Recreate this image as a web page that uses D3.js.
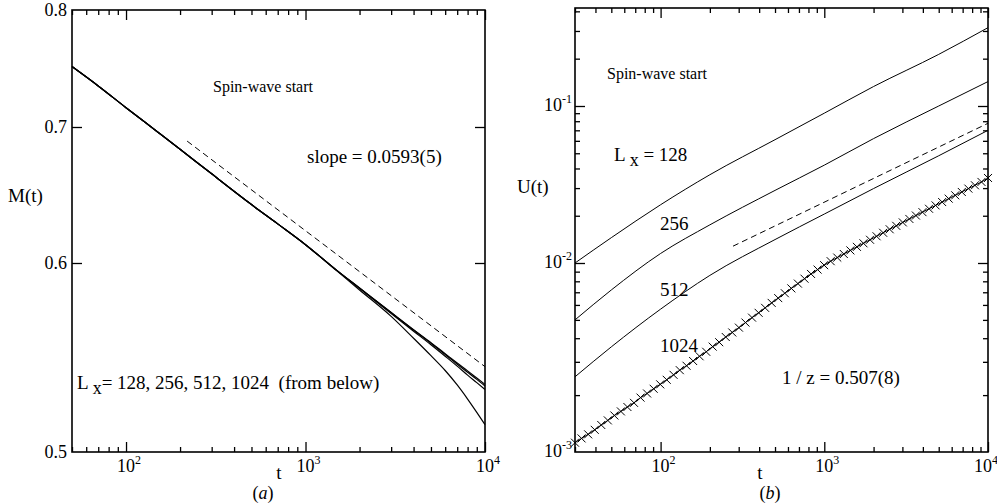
<!DOCTYPE html>
<html>
<head>
<meta charset="utf-8">
<script src="https://cdn.jsdelivr.net/npm/d3@7"></script>
<style>
  body { margin: 0; background: #fff; }
  svg text { font-family: "Liberation Serif", "Times New Roman", serif; fill: #000; white-space: pre; }
</style>
</head>
<body>
<svg id="chart" width="997" height="503"></svg>
<script>
// ---- panel (a): magnetisation M(t) ----
const tA = [50, 70, 100, 150, 200, 300, 500, 700, 1000, 1500, 2000, 3000, 4000, 5000, 6000, 7000, 8000, 9000, 10000];
const mL1024 = [0.750, 0.7336, 0.7156, 0.6961, 0.6826, 0.6638, 0.6411, 0.6272, 0.6126, 0.5956, 0.5857, 0.5720, 0.5626, 0.5556, 0.5497, 0.5448, 0.5407, 0.5370, 0.5337];
const mL512  = [0.750, 0.7336, 0.7156, 0.6961, 0.6826, 0.6638, 0.6411, 0.6272, 0.6126, 0.5956, 0.5857, 0.5720, 0.5624, 0.5553, 0.5493, 0.5442, 0.5400, 0.5363, 0.5329];
const mL256  = [0.750, 0.7336, 0.7156, 0.6961, 0.6826, 0.6638, 0.6411, 0.6272, 0.6126, 0.5956, 0.5855, 0.5714, 0.5618, 0.5545, 0.5484, 0.5432, 0.5385, 0.5346, 0.5311];
const mL128  = [0.750, 0.7336, 0.7156, 0.6961, 0.6826, 0.6638, 0.6411, 0.6272, 0.6126, 0.5953, 0.5846, 0.5699, 0.5580, 0.5487, 0.5409, 0.5334, 0.5262, 0.5195, 0.5134];
const slopeA = [[219, 0.6889], [10000, 0.5429]];
const yTicksA = [0.5, 0.6, 0.7, 0.8];

// ---- panel (b): U(t) ----
const tB = [30, 50, 100, 200, 500, 1000, 2000, 5000, 10000];
const u128 = [0.0100, 0.0145, 0.0235, 0.0365, 0.061, 0.090, 0.133, 0.213, 0.315];
const u256 = [0.0050, 0.0072, 0.0115, 0.0175, 0.029, 0.042, 0.062, 0.100, 0.143];
const u512 = [0.0025, 0.0036, 0.0057, 0.0086, 0.0141, 0.0205, 0.0298, 0.0482, 0.070];
const t1024 = [30, 32.9, 36.1, 39.6, 43.4, 47.6, 52.2, 57.2, 62.7, 68.8, 75.4, 82.7, 90.7, 99.5,
  109, 120, 131, 144, 158, 173, 190, 208, 228, 250, 274, 301, 330, 362, 397, 435, 477, 523, 574,
  629, 690, 757, 830, 910, 998, 1094, 1200, 1316, 1443, 1582, 1735, 1903, 2086, 2288, 2509, 2751,
  3017, 3309, 3628, 3979, 4363, 4785, 5247, 5754, 6310, 6920, 7588, 8322, 9125, 10000];
const u1024 = [0.00112, 0.00118, 0.00124, 0.00131, 0.00139, 0.00147, 0.00156, 0.00164, 0.00173, 0.00182,
  0.00194, 0.00204, 0.00216, 0.00228, 0.00241, 0.00256, 0.00271, 0.00286, 0.00303, 0.00321, 0.00339,
  0.00361, 0.00381, 0.00406, 0.00429, 0.00455, 0.00484, 0.00514, 0.00545, 0.00579, 0.00615, 0.00652,
  0.00692, 0.00734, 0.00778, 0.00826, 0.00875, 0.00923, 0.00974, 0.01027, 0.01083, 0.01141, 0.01203,
  0.01267, 0.01335, 0.01406, 0.01480, 0.01558, 0.01640, 0.01725, 0.01814, 0.01908, 0.02006, 0.02108,
  0.02215, 0.02327, 0.02445, 0.02569, 0.02698, 0.02834, 0.02977, 0.03126, 0.03283, 0.0348];
const slopeB = [[277, 0.0128], [10000, 0.0776]];
const yDecB = [0.001, 0.01, 0.1, 0.42];

const xTickPowers = [2, 3, 4];

const svg = d3.select("#chart");

// the printed axes are not evenly spaced per decade, so the log scales are piecewise
const xA = d3.scaleLog().domain([50, 10000]).range([72, 485]);
const yA = d3.scaleLog().domain(yTicksA).range([452, 263, 127, 10]);
const xB = d3.scaleLog().domain([30, 10000]).range([575, 988]);
const yB = d3.scaleLog().domain(yDecB).range([452, 263, 106, 8]);

function tickSet(g, axisFn, scale, vals, len, tr) {
  g.append("g")
    .attr("transform", tr)
    .call(axisFn(scale).tickValues(vals).tickSize(-len).tickSizeOuter(0).tickFormat(""))
    .call(a => a.select(".domain").remove())
    .selectAll("line").attr("stroke-width", 1.3);
}

function isPow10(v) {
  const l = Math.log10(v);
  return Math.abs(l - Math.round(l)) < 1e-9;
}

function drawFrame(x, y, yMajors, yMinors) {
  const g = svg.append("g");
  const [x0, x1] = x.range();
  const yr = y.range();
  const y1 = yr[0], y0 = yr[yr.length - 1];
  const xMajor = x.ticks().filter(isPow10);
  const xMinor = x.ticks().filter(v => !isPow10(v));
  tickSet(g, d3.axisBottom, x, xMajor, 10, `translate(0,${y1})`);
  tickSet(g, d3.axisBottom, x, xMinor, 5, `translate(0,${y1})`);
  tickSet(g, d3.axisTop, x, xMajor, 10, `translate(0,${y0})`);
  tickSet(g, d3.axisTop, x, xMinor, 5, `translate(0,${y0})`);
  tickSet(g, d3.axisLeft, y, yMajors, 10, `translate(${x0},0)`);
  tickSet(g, d3.axisLeft, y, yMinors, 5, `translate(${x0},0)`);
  tickSet(g, d3.axisRight, y, yMajors, 10, `translate(${x1},0)`);
  tickSet(g, d3.axisRight, y, yMinors, 5, `translate(${x1},0)`);
  g.append("rect")
    .attr("x", x0).attr("y", y0)
    .attr("width", x1 - x0).attr("height", y1 - y0)
    .attr("fill", "none").attr("stroke", "#000").attr("stroke-width", 1.6);

  // x tick labels 10^n
  const lab = g.selectAll("text.xl")
    .data(xTickPowers)
    .join("text")
    .attr("class", "xl")
    .attr("x", d => Math.min(x(Math.pow(10, d)) + 3, 986))
    .attr("y", y1 + 20)
    .attr("text-anchor", "middle")
    .attr("font-size", 18);
  lab.append("tspan").text("10");
  lab.append("tspan").attr("dy", -8).attr("font-size", 12).text(d => d);
}

// ---------- panel (a) ----------
drawFrame(xA, yA, [0.6, 0.7], []);

svg.append("g").selectAll("text")
  .data(yTicksA)
  .join("text")
  .attr("x", 67)
  .attr("y", d => yA(d) + 6)
  .attr("text-anchor", "end")
  .attr("font-size", 18)
  .text(d => d.toFixed(1));

const lineA = d3.line().x(d => xA(d[0])).y(d => yA(d[1])).curve(d3.curveMonotoneX);
[mL128, mL256, mL512, mL1024].forEach(s => {
  svg.append("path")
    .datum(tA.map((t, i) => [t, s[i]]))
    .attr("d", lineA)
    .attr("fill", "none").attr("stroke", "#000").attr("stroke-width", 1.2);
});
svg.append("path")
  .datum(slopeA)
  .attr("d", d3.line().x(d => xA(d[0])).y(d => yA(d[1])))
  .attr("fill", "none").attr("stroke", "#000").attr("stroke-width", 1)
  .attr("stroke-dasharray", "6,4");

svg.append("text").attr("x", 213).attr("y", 92).attr("font-size", 16).text("Spin-wave start");
svg.append("text").attr("x", 307).attr("y", 163).attr("font-size", 19).text("slope = 0.0593(5)");
const lx = svg.append("text").attr("x", 77).attr("y", 389).attr("font-size", 19);
lx.append("tspan").text("L ");
lx.append("tspan").attr("dy", 5).attr("font-size", 18).text("x");
lx.append("tspan").attr("dy", -5).text("= 128, 256, 512, 1024  (from below)");

svg.append("text").attr("x", 8).attr("y", 202).attr("font-size", 19).text("M(t)");
svg.append("text").attr("x", 279).attr("y", 479).attr("text-anchor", "middle").attr("font-size", 19).text("t");
const la = svg.append("text").attr("x", 263).attr("y", 499).attr("text-anchor", "middle").attr("font-size", 18);
la.append("tspan").text("(");
la.append("tspan").attr("font-style", "italic").text("a");
la.append("tspan").text(")");

// ---------- panel (b) ----------
const yMajorB = yB.ticks().filter(v => isPow10(v) && v > 0.001);
const yMinorB = yB.ticks().filter(v => !isPow10(v));
drawFrame(xB, yB, yMajorB, yMinorB);

const ylB = svg.append("g").selectAll("text")
  .data([-3, -2, -1])
  .join("text")
  .attr("x", 572)
  .attr("y", d => yB(Math.pow(10, d)) + 5)
  .attr("text-anchor", "end")
  .attr("font-size", 18);
ylB.append("tspan").text("10");
ylB.append("tspan").attr("dy", -8).attr("font-size", 12).text(d => d);

const lineB = d3.line().x(d => xB(d[0])).y(d => yB(d[1])).curve(d3.curveMonotoneX);
[u128, u256, u512].forEach(s => {
  svg.append("path")
    .datum(tB.map((t, i) => [t, s[i]]))
    .attr("d", lineB)
    .attr("fill", "none").attr("stroke", "#000").attr("stroke-width", 1);
});
const pts1024 = t1024.map((t, i) => [t, u1024[i]]);
svg.append("path")
  .datum(pts1024)
  .attr("d", lineB)
  .attr("fill", "none").attr("stroke", "#000").attr("stroke-width", 1);
svg.append("g").selectAll("path")
  .data(pts1024)
  .join("path")
  .attr("transform", d => `translate(${xB(d[0])},${yB(d[1])})`)
  .attr("d", "M-4,-4L4,4M-4,4L4,-4")
  .attr("stroke", "#000").attr("stroke-width", 1);
svg.append("path")
  .datum(slopeB)
  .attr("d", d3.line().x(d => xB(d[0])).y(d => yB(d[1])))
  .attr("fill", "none").attr("stroke", "#000").attr("stroke-width", 1)
  .attr("stroke-dasharray", "6,4");

svg.append("text").attr("x", 607).attr("y", 79).attr("font-size", 16).text("Spin-wave start");
const lb = svg.append("text").attr("x", 614).attr("y", 161).attr("font-size", 19);
lb.append("tspan").text("L ");
lb.append("tspan").attr("dy", 5).attr("font-size", 18).text("x");
lb.append("tspan").attr("dy", -5).text(" = 128");
svg.append("text").attr("x", 660).attr("y", 230).attr("font-size", 19).text("256");
svg.append("text").attr("x", 660).attr("y", 296).attr("font-size", 19).text("512");
svg.append("text").attr("x", 660).attr("y", 352).attr("font-size", 19).text("1024");
svg.append("text").attr("x", 782).attr("y", 384).attr("font-size", 19).text("1 / z = 0.507(8)");

svg.append("text").attr("x", 760).attr("y", 479).attr("text-anchor", "middle").attr("font-size", 19).text("t");
const lbb = svg.append("text").attr("x", 770).attr("y", 499).attr("text-anchor", "middle").attr("font-size", 18);
lbb.append("tspan").text("(");
lbb.append("tspan").attr("font-style", "italic").text("b");
lbb.append("tspan").text(")");
svg.append("text").attr("x", 517).attr("y", 193).attr("font-size", 19).text("U(t)");
</script>
</body>
</html>
